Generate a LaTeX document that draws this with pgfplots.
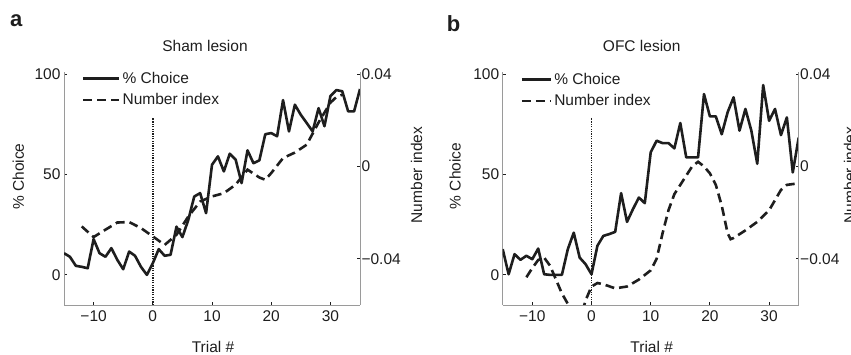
\documentclass[border=0pt]{standalone}
\usepackage{fontspec}
\setmainfont{Liberation Sans}
\usepackage{pgfplots}
\pgfplotsset{compat=1.18}
\newcommand\fsz{\fontsize{15.5}{18}\selectfont}
\definecolor{axgray}{HTML}{9A9A9A}
\definecolor{ink}{HTML}{1E1E1E}
\pgfplotsset{
  base/.style={
    scale only axis, width=296pt, height=233pt,
    xmin=-15, xmax=35,
    axis line style={axgray, line width=0.9pt},
    tick style={ink, line width=0.9pt},
    major tick length=3pt,
    tick align=inside,
    tick label style={font=\fsz, text=ink},
    scaled y ticks=false, scaled x ticks=false,
  },
  leftax/.style={base,
    ymin=-15, ymax=101,
    axis x line*=bottom, axis y line*=left,
    xtick={-10,0,10,20,30}, xticklabels={−10,0,10,20,30},
    ytick={0,50,100}, yticklabels={0,50,100},
    xticklabel style={yshift=-2pt},
    legend cell align=left,
    legend style={draw=none, fill=none, inner sep=0pt, font=\fsz, text=ink,
       row sep=5pt, nodes={inner sep=2pt}},
  },
  rightax/.style={base,
    ymin=-0.06, ymax=0.04087,
    axis x line=none, axis y line*=right,
    ytick={-0.04,0,0.04}, yticklabels={−0.04,0,0.04},
    yticklabel style={xshift=-2pt},
  },
  choice/.style={ink, line width=2.6pt, line join=round},
  numidx/.style={ink, line width=2.6pt, dash pattern=on 9pt off 5pt},
  onset/.style={ink, line width=1.8pt, dash pattern=on 1.2pt off 1.2pt},
}
\pgfplotstableread{
t v
-15 10.8
-14 9
-13 4.5
-12 4
-11 3.3
-10 17.8
-9 10.8
-8 9
-7 13.3
-6 7.5
-5 2.8
-4 11.6
-3 9.5
-2 4
-1 0
0 5.8
1 12.8
2 9.5
3 10
4 24
5 18.8
6 27.4
7 39
8 40.7
9 30.7
10 54.8
11 59
12 51.5
13 60.3
14 57.3
15 45.7
16 62
17 55.6
18 57
19 70
20 70.6
21 69
22 87
23 71.4
24 84.7
25 79.7
26 75.6
27 71.4
28 83
29 74
30 89
31 92
32 91.4
33 81.4
34 81.4
35 92.5
}\choiceA
\pgfplotstableread{
t v
-12 -0.026
-10 -0.0306
-8 -0.0274
-6 -0.0243
-4 -0.0241
-2 -0.0267
0 -0.0303
2 -0.034
4 -0.0296
6 -0.0217
8 -0.0152
10 -0.013
12 -0.0116
14 -0.0079
16 -0.0014
18 -0.0048
19 -0.0058
20 -0.0029
22 0.0036
24 0.0060
26 0.0094
28 0.019
30 0.0276
31 0.030
32 0.031
}\numA
\pgfplotstableread{
t v
-15 12.8
-14 0.3
-13 10.3
-12 7.5
-11 9.5
-10 7.8
-9 13.1
-8 0.3
-7 0
-6 0
-5 0
-4 12.8
-3 21
-2 8.6
-1 5.3
0 0.3
1 14.5
2 19.4
3 20.3
4 21.4
5 40.7
6 26.4
7 32.7
8 38.5
9 35.7
10 61
11 66.8
12 65.6
13 65.6
14 63
15 75.6
16 58.5
17 58.5
18 58.5
19 90
20 78.9
21 78.9
22 70
23 81
24 88.4
25 71.8
26 82.6
27 71.8
28 55.3
29 94.5
30 76.7
31 82.6
32 69.6
33 78.4
34 51
35 68.4
}\choiceB
\pgfplotstableread{
t v
-11 -0.048
-10 -0.044
-9 -0.0405
-8 -0.0395
-7 -0.043
-6 -0.049
-5 -0.055
-4 -0.0595
-3 -0.066
-2 -0.067
-1 -0.058
0 -0.052
1 -0.0505
2 -0.051
4 -0.0528
6 -0.052
8 -0.049
10 -0.045
11 -0.040
12 -0.029
13 -0.019
14 -0.012
15 -0.008
16 -0.004
17 0.0
18 0.002
19 0.0
20 -0.003
21 -0.008
22 -0.017
23 -0.029
23.5 -0.0315
24 -0.031
26 -0.0277
28 -0.024
30 -0.019
32 -0.0102
33 -0.008
35 -0.0073
}\numB
\begin{document}
\begin{tikzpicture}
\path[use as bounding box] (0pt,0pt) rectangle (851pt,355pt);
% ---------- panel a ----------
\begin{axis}[leftax, at={(64pt,50pt)}, anchor=south west,
  legend style={at={(rel axis cs:0.06,1.01)}, anchor=north west},
  legend image code/.code={\draw[#1] (0pt,0pt) -- (36pt,0pt);}]
\addplot[choice] table[x=t,y=v] {\choiceA};
\addlegendentry{\% Choice}
\addlegendimage{numidx}
\addlegendentry{Number index}
\addplot[onset, forget plot] coordinates {(0,-15) (0,78.3)};
\end{axis}
\begin{axis}[rightax, at={(64pt,50pt)}, anchor=south west]
\addplot[numidx] table[x=t,y=v] {\numA};
\end{axis}
% ---------- panel b ----------
\begin{axis}[leftax, at={(502.7pt,50pt)}, anchor=south west,
  legend style={at={(rel axis cs:0.06,1.005)}, anchor=north west},
  legend image code/.code={\draw[#1] (0pt,0pt) -- (29pt,0pt);}]
\addplot[choice] table[x=t,y=v] {\choiceB};
\addlegendentry{\% Choice}
\addlegendimage{numidx}
\addlegendentry{Number index}
\addplot[onset, forget plot] coordinates {(0,-15) (0,78.3)};
\end{axis}
\begin{axis}[rightax, at={(502.7pt,50pt)}, anchor=south west]
\addplot[numidx] table[x=t,y=v] {\numB};
\end{axis}
% ---------- labels ----------
\node[font=\fontsize{22}{24}\selectfont\bfseries, anchor=base west, inner sep=0pt, text=ink] at (10pt,328.3pt) {a};
\node[font=\fontsize{22}{24}\selectfont\bfseries, anchor=base west, inner sep=0pt, text=ink] at (446.7pt,323.3pt) {b};
\node[font=\fsz, text=ink] at (205pt,309.3pt) {Sham lesion};
\node[font=\fsz, text=ink] at (641.7pt,309.3pt) {OFC lesion};
\node[font=\fsz, text=ink] at (213pt,8.3pt) {Trial \#};
\node[font=\fsz, text=ink] at (651.7pt,8pt) {Trial \#};
\node[font=\fsz, text=ink, rotate=90] at (18.3pt,178.3pt) {\% Choice};
\node[font=\fsz, text=ink, rotate=90] at (455pt,179pt) {\% Choice};
\node[font=\fsz, text=ink, rotate=90] at (416.7pt,180pt) {Number index};
\node[font=\fsz, text=ink, rotate=90] at (849.5pt,180pt) {Number index};
\end{tikzpicture}
\end{document}
